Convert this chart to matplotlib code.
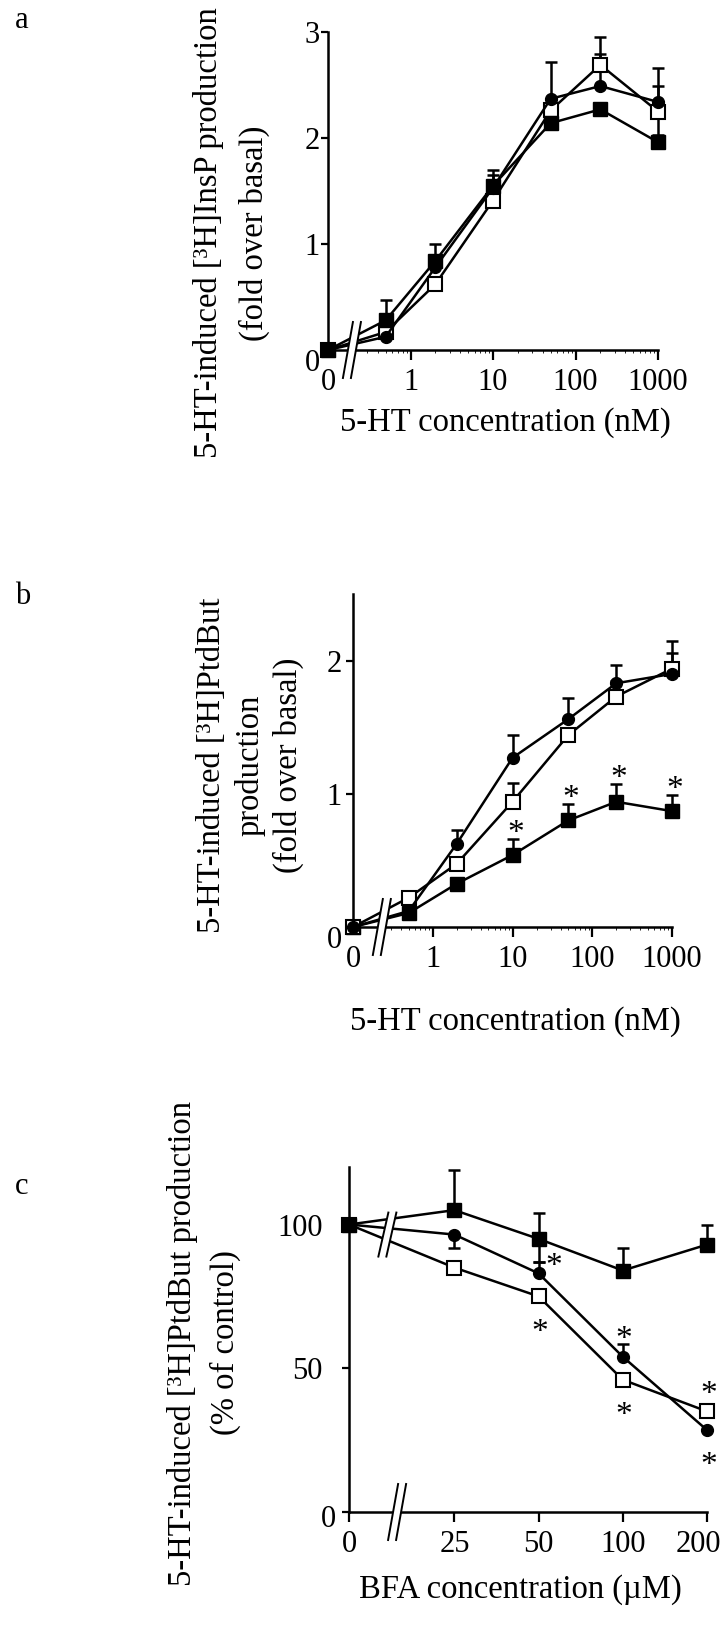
import matplotlib
matplotlib.use("Agg")
import matplotlib.pyplot as plt
from matplotlib.patches import Polygon
from matplotlib.lines import Line2D
from matplotlib.transforms import ScaledTranslation
from matplotlib.ticker import NullLocator, FixedLocator, FixedFormatter

plt.rcParams['font.family'] = ['Liberation Serif', 'DejaVu Serif']

# ---- data ----
conc_5ht = [0, 0.5, 2, 10, 50, 200, 1000]          # nM
conc_5ht_labels = ['0', '1', '10', '100', '1000']

# panel a: [3H]InsP (fold over basal)
a_filled_sq = [0, 0.28, 0.84, 1.55, 2.14, 2.27, 1.96]
a_filled_sq_hi = [0, 0.19, 0.16, 0.10, 0, 0, 0]
a_circle = [0, 0.125, 0.78, 1.53, 2.37, 2.49, 2.34]
a_circle_hi = [0, 0, 0.10, 0.17, 0.35, 0.30, 0.32]
a_open_sq = [0, 0.17, 0.62, 1.41, 2.26, 2.69, 2.25]
a_open_sq_hi = [0, 0, 0, 0, 0, 0.26, 0.24]
a_open_sq_lo = [0, 0, 0, 0, 0, 0, 0.22]

# panel b: [3H]PtdBut (fold over basal)
b_circle = [0, 0.12, 0.625, 1.27, 1.56, 1.83, 1.90]
b_circle_hi = [0, 0, 0.10, 0.17, 0.16, 0.14, 0.16]
b_open_sq = [0, 0.22, 0.475, 0.94, 1.44, 1.73, 1.94]
b_open_sq_hi = [0, 0, 0, 0.14, 0, 0.12, 0.21]
b_filled_sq = [0, 0.105, 0.325, 0.54, 0.80, 0.94, 0.87]
b_filled_sq_hi = [0, 0, 0, 0.12, 0.12, 0.13, 0.12]
b_stars = [10, 50, 200, 1000]   # filled squares marked *

# panel c: BFA, % of control
conc_bfa = [0, 25, 50, 100, 200]                     # uM
conc_bfa_labels = ['0', '25', '50', '100', '200']
c_filled_sq = [100, 105, 95, 84, 93]
c_filled_sq_hi = [0, 14, 9, 8, 7]
c_filled_sq_lo = [0, 0, 8, 0, 0]
c_circle = [100, 96.5, 83, 54, 28.5]
c_circle_hi = [0, 0, 4, 4.5, 0]
c_circle_lo = [0, 4.5, 0, 0, 0]
c_open_sq = [100, 85, 75, 46, 35]
# (series, concentration, side) for the asterisks
c_stars = [('circle', 50, 'right'), ('open', 50, 'below'), ('circle', 100, 'above'),
           ('open', 100, 'below'), ('open', 200, 'above'), ('circle', 200, 'below')]

W, H = 725, 1630
fig = plt.figure(figsize=(W / 100, H / 100), dpi=100)

TICK_FS = 22
LAB_FS = 23.5


def px_axes(left, right, bottom, top):
    return fig.add_axes([left / W, 1 - bottom / H, (right - left) / W, (bottom - top) / H])


def style(ax, ypad=1):
    for s in ['top', 'right']:
        ax.spines[s].set_visible(False)
    for s in ['left', 'bottom']:
        ax.spines[s].set_linewidth(1.8)
    ax.tick_params(axis='both', direction='out', width=1.6, labelsize=TICK_FS)
    ax.tick_params(axis='y', length=5, pad=ypad)
    ax.tick_params(axis='x', length=7, pad=6)
    ax.xaxis.set_minor_locator(NullLocator())


def shift_label(lab, dx, dy):
    # nudge a single tick label by dx, dy points
    lab.set_transform(lab.get_transform() + ScaledTranslation(dx / 72, dy / 72, fig.dpi_scale_trans))


def series(ax, x, y, kind, hi=None, lo=None):
    mk = {'filled': dict(marker='s', ms=10, mfc='black', mec='black'),
          'circle': dict(marker='o', ms=8.5, mfc='black', mec='black'),
          'open': dict(marker='s', ms=10, mfc='white', mec='black', mew=1.5)}[kind]
    if hi is not None:
        lo = lo if lo is not None else [0] * len(y)
        ax.errorbar(x, y, yerr=[lo, hi], fmt='none', ecolor='black', elinewidth=1.8,
                    capsize=4, capthick=1.8, zorder=2, clip_on=False)
    ax.plot(x, y, color='black', lw=1.8, zorder=3, clip_on=False, **mk)


def add_break(ax, xd, yd, half=28, slant=5, gap=8):
    # draws an axis break "//" centred at data point (xd, yd)
    fig.canvas.draw()
    bb = ax.get_window_extent()
    cx, cy = ax.transAxes.inverted().transform(ax.transData.transform((xd, yd)))
    fx, fy = 1.0 / bb.width, 1.0 / bb.height
    l0 = (cx + (-gap / 2 - slant) * fx, cy - half * fy)
    l1 = (cx + (-gap / 2 + slant) * fx, cy + half * fy)
    r0 = (cx + (gap / 2 - slant) * fx, cy - half * fy)
    r1 = (cx + (gap / 2 + slant) * fx, cy + half * fy)
    ax.add_patch(Polygon([l0, l1, r1, r0], closed=True, facecolor='white', edgecolor='none',
                         transform=ax.transAxes, clip_on=False, zorder=6))
    for p, q in [(l0, l1), (r0, r1)]:
        ax.add_line(Line2D([p[0], q[0]], [p[1], q[1]], color='black', lw=1.4,
                           transform=ax.transAxes, clip_on=False, zorder=7))


def conc_axis(ax):
    ax.set_xscale('log')
    ax.set_xlim(0.1, 1000)
    ax.xaxis.set_major_locator(FixedLocator([0.1, 1, 10, 100, 1000]))
    ax.xaxis.set_major_formatter(FixedFormatter(conc_5ht_labels))
    ax.xaxis.get_major_ticks()[0].tick1line.set_visible(False)


def zero_pos(vals, zero):
    return [zero if v == 0 else v for v in vals]


# ---------------- panel a ----------------
ax = px_axes(328, 658, 350, 32)
style(ax)
conc_axis(ax)
xa = zero_pos(conc_5ht, 0.1)
ax.set_ylim(0, 3)
ax.set_yticks([0, 1, 2, 3])
series(ax, xa, a_open_sq, 'open', a_open_sq_hi, a_open_sq_lo)
series(ax, xa, a_circle, 'circle', a_circle_hi)
series(ax, xa, a_filled_sq, 'filled', a_filled_sq_hi)
add_break(ax, 0.195, 0)
shift_label(ax.get_yticklabels()[0], 0, -7)
fig.text(505 / W, 1 - 423 / H, '5-HT concentration (nM)', ha='center', va='center', fontsize=LAB_FS)
fig.text(208 / W, 1 - 233 / H, '5-HT-induced [³H]InsP production', rotation=90,
         ha='center', va='center', fontsize=LAB_FS)
fig.text(254 / W, 1 - 233 / H, '(fold over basal)', rotation=90,
         ha='center', va='center', fontsize=LAB_FS)
fig.text(15 / W, 1 - 21 / H, 'a', ha='left', va='center', fontsize=22)

# ---------------- panel b ----------------
ax = px_axes(353, 672, 927, 594)
style(ax, ypad=3)
conc_axis(ax)
ax.set_ylim(0, 2.5)
ax.set_yticks([0, 1, 2])
series(ax, xa, b_filled_sq, 'filled', b_filled_sq_hi)
series(ax, xa, b_open_sq, 'open', b_open_sq_hi)
series(ax, xa, b_circle, 'circle', b_circle_hi)
for c in b_stars:
    i = conc_5ht.index(c)
    ax.annotate('*', (xa[i], b_filled_sq[i] + b_filled_sq_hi[i]), xytext=(2, -7),
                textcoords='offset points', ha='center', va='bottom', fontsize=24)
add_break(ax, 0.23, 0)
shift_label(ax.get_yticklabels()[0], 0, -7)
fig.text(515 / W, 1 - 1022 / H, '5-HT concentration (nM)', ha='center', va='center', fontsize=LAB_FS)
fig.text(212 / W, 1 - 765 / H, '5-HT-induced [³H]PtdBut', rotation=90,
         ha='center', va='center', fontsize=LAB_FS)
fig.text(250 / W, 1 - 765 / H, 'production', rotation=90,
         ha='center', va='center', fontsize=LAB_FS)
fig.text(288 / W, 1 - 765 / H, '(fold over basal)', rotation=90,
         ha='center', va='center', fontsize=LAB_FS)
fig.text(15 / W, 1 - 596 / H, 'b', ha='left', va='center', fontsize=22)

# ---------------- panel c ----------------
ax = px_axes(349, 707, 1512, 1167)
style(ax, ypad=14)
ax.set_xscale('log', base=2)
ax.set_xlim(10.5, 200)
xc = zero_pos(conc_bfa, 10.5)
ax.xaxis.set_major_locator(FixedLocator(xc))
ax.xaxis.set_major_formatter(FixedFormatter(conc_bfa_labels))
ax.set_ylim(0, 120)
ax.set_yticks([0, 50, 100])
series(ax, xc, c_open_sq, 'open')
series(ax, xc, c_circle, 'circle', c_circle_hi, c_circle_lo)
series(ax, xc, c_filled_sq, 'filled', c_filled_sq_hi, c_filled_sq_lo)
vals = {'circle': c_circle, 'open': c_open_sq}
offs = {'right': (11, 5), 'above': (1, 12), 'below': (1, -26)}
for name, c, side in c_stars:
    i = conc_bfa.index(c)
    ax.annotate('*', (xc[i], vals[name][i]), xytext=offs[side], textcoords='offset points',
                ha='center', va='center', fontsize=24)
add_break(ax, 14.4, 96.5, half=22)
add_break(ax, 15.6, 0)
fig.canvas.draw()
shift_label(ax.get_yticklabels()[0], 10, -3)
shift_label(ax.get_xticklabels()[-1], -6, 0)
fig.text(520 / W, 1 - 1590 / H, 'BFA concentration (µM)', ha='center', va='center', fontsize=LAB_FS)
fig.text(183 / W, 1 - 1343 / H, '5-HT-induced [³H]PtdBut production', rotation=90,
         ha='center', va='center', fontsize=LAB_FS)
fig.text(225 / W, 1 - 1343 / H, '(% of control)', rotation=90,
         ha='center', va='center', fontsize=LAB_FS)
fig.text(15 / W, 1 - 1186 / H, 'c', ha='left', va='center', fontsize=22)

fig.savefig('out.png', dpi=100, facecolor='white')
